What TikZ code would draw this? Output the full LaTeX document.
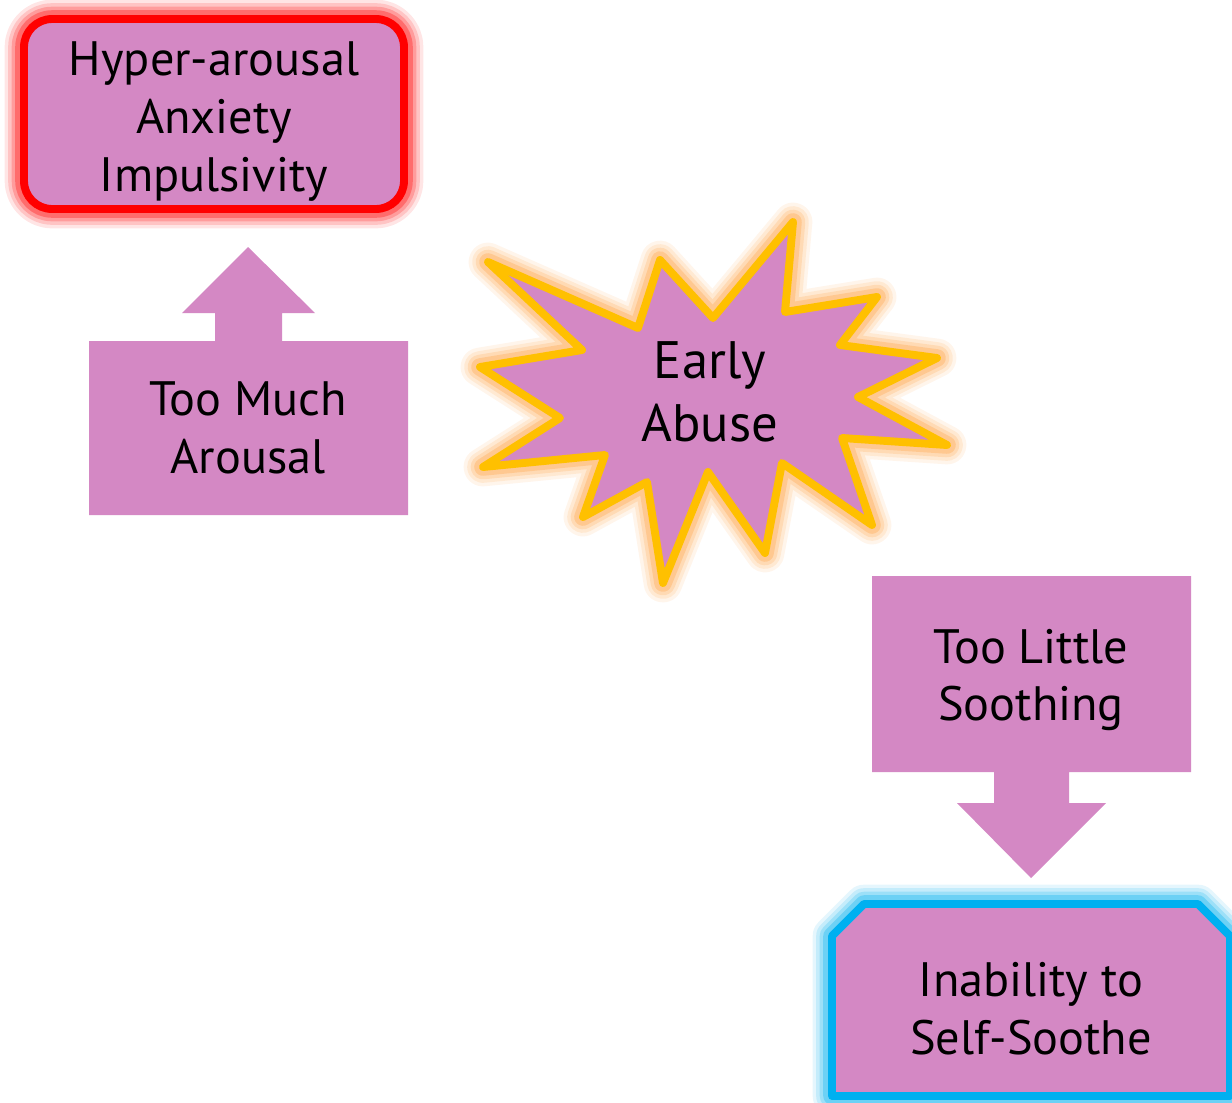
\documentclass[tikz,border=0pt]{standalone}
\usepackage{fontspec}
\setmainfont{PT Sans}
\definecolor{boxFill}{HTML}{D488C4}
\definecolor{hyperLine}{HTML}{FF0000}
\definecolor{burstLine}{HTML}{FFC000}
\definecolor{burstGlow}{HTML}{FFA040}
\definecolor{sootheLine}{HTML}{00B0F0}

\begin{document}
\begin{tikzpicture}[
  x=0.02cm, y=-0.02cm,
  font=\fontsize{27.5}{33}\selectfont,
  glow/.style={preaction={draw=#1, draw opacity=0.10, line width=22pt, line join=round},
               preaction={draw=#1, draw opacity=0.14, line width=18pt, line join=round},
               preaction={draw=#1, draw opacity=0.20, line width=14pt, line join=round},
               preaction={draw=#1, draw opacity=0.30, line width=10pt, line join=round}},
  rimmed/.style={fill=boxFill, draw=#1, line width=4.5pt, line join=round},
  plain/.style={fill=boxFill, draw=none},
  txt/.style={align=center, inner sep=0pt}
]
\path[use as bounding box, fill=white] (0,0) rectangle (1232,1103);

% ===== Top left: result box =====
\draw[rimmed=hyperLine, glow=hyperLine, rounded corners=16pt] (24,19) rectangle (404,209);
\node[txt] (hyper) at (214,122) {Hyper-arousal\\Anxiety\\Impulsivity};

% ===== Up arrow callout =====
\path[plain] (89,515) -- (89,341) -- (215,341) -- (215,313) -- (182,313) -- (248,247)
  -- (315,313) -- (282,313) -- (282,341) -- (408,341) -- (408,515) -- cycle;
\node[txt] (muchArousal) at (248,428) {Too Much\\Arousal};

% ===== Starburst in the middle =====
\draw[rimmed=burstLine, glow=burstGlow]
  (488,262) -- (638,328) -- (660,260) -- (713,318) -- (793,222) -- (785,312)
  -- (877,297) -- (840,345) -- (937,358) -- (858,397) -- (947,445) -- (842,438)
  -- (872,525) -- (782,463) -- (765,553) -- (708,472) -- (663,583) -- (647,482)
  -- (583,517) -- (605,455) -- (483,467) -- (560,418) -- (480,367) -- (582,350) -- cycle;
\node[txt, font=\fontsize{30}{36}\selectfont] (abuse) at (710,392) {Early\\Abuse};

% ===== Down arrow callout =====
\path[plain] (872,576) -- (1191,576) -- (1191,772) -- (1069,772) -- (1069,803) -- (1106,803)
  -- (1031,878) -- (957,803) -- (994,803) -- (994,772) -- (872,772) -- cycle;
\node[txt] (littleSoothing) at (1031,680) {Too Little\\Soothing};

% ===== Bottom right: result box =====
\draw[rimmed=sootheLine, glow=sootheLine]
  (832,1096) -- (832,936) -- (864,904) -- (1198,904) -- (1230,936) -- (1230,1096) -- cycle;
\node[txt] (selfSoothe) at (1031,1009) {Inability to\\Self-Soothe};

\end{tikzpicture}
\end{document}
